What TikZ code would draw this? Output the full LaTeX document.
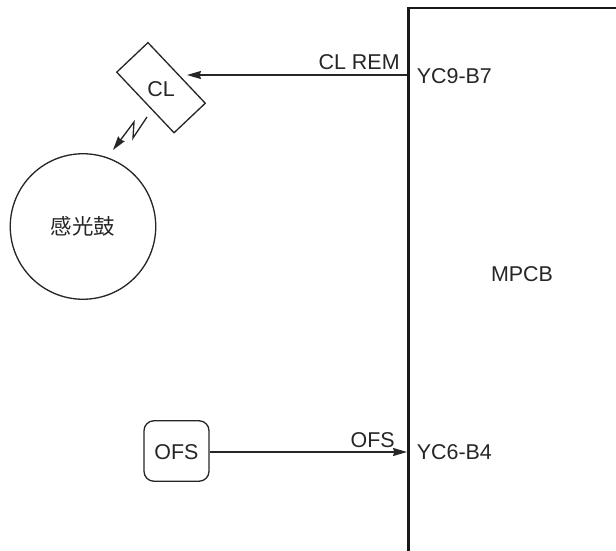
\documentclass[tikz,border=0pt]{standalone}
\usepackage{fontspec}
\setmainfont{Liberation Sans}
\newfontfamily\cjkfont{Noto Sans CJK SC}
\usetikzlibrary{arrows.meta,positioning}
\tikzset{
  thinline/.style={line width=0.75pt,draw=black!85},
  boardline/.style={line width=1.15pt,draw=black!90},
  label/.style={inner sep=0pt,font=\fontsize{12.2pt}{14pt}\selectfont,text=black!85},
}
\begin{document}
\begin{tikzpicture}[x=0.02cm,y=-0.02cm,>={Stealth[length=8pt,width=4.6pt,inset=0.8pt]}]
  \useasboundingbox (0,0) rectangle (616,551);
  % board
  \draw[boardline] (616,8) -- (408.5,8) -- (408.5,551);
  \node[label] (mpcb) at (522,274) {MPCB};
  \coordinate (pinA) at (407,75);
  \coordinate (pinB) at (407,452);
  \node[label,anchor=base west] (yca) at (416.5,83.5) {YC9-B7};
  \node[label,anchor=base west] (ycb) at (416.5,459.5) {YC6-B4};
  % charger
  \node[thinline,draw,rotate=-46.6,minimum width=83.4*0.02cm,minimum height=43*0.02cm,inner sep=0pt] (cl) at (161,87.7) {};
  \node[label] (cltext) at (161,89) {CL};
  \draw[thinline,->] (pinA) -- (187,75);
  \node[label,anchor=base east] (clrem) at (400,70) {CL REM};
  % drum
  \node[thinline,draw,circle,minimum size=145.5*0.02cm,inner sep=0pt] (drum) at (83,226.5) {};
  \node[label] (drumtext) at (83,226) {\cjkfont 感光鼓};
  \draw[thinline,->] (147,117) -- (133,138) -- (134,122) -- (113,150);
  % sensor
  \node[thinline,draw,rounded corners=2mm,minimum width=65*0.02cm,minimum height=60.5*0.02cm,inner sep=0pt] (ofs) at (176.5,451) {};
  \node[label] (ofstext) at (176.5,452) {OFS};
  \draw[thinline,->] (ofs.east |- pinB) -- (pinB);
  \node[label,anchor=base east] (ofslabel) at (395,447.7) {OFS};
\end{tikzpicture}
\end{document}
